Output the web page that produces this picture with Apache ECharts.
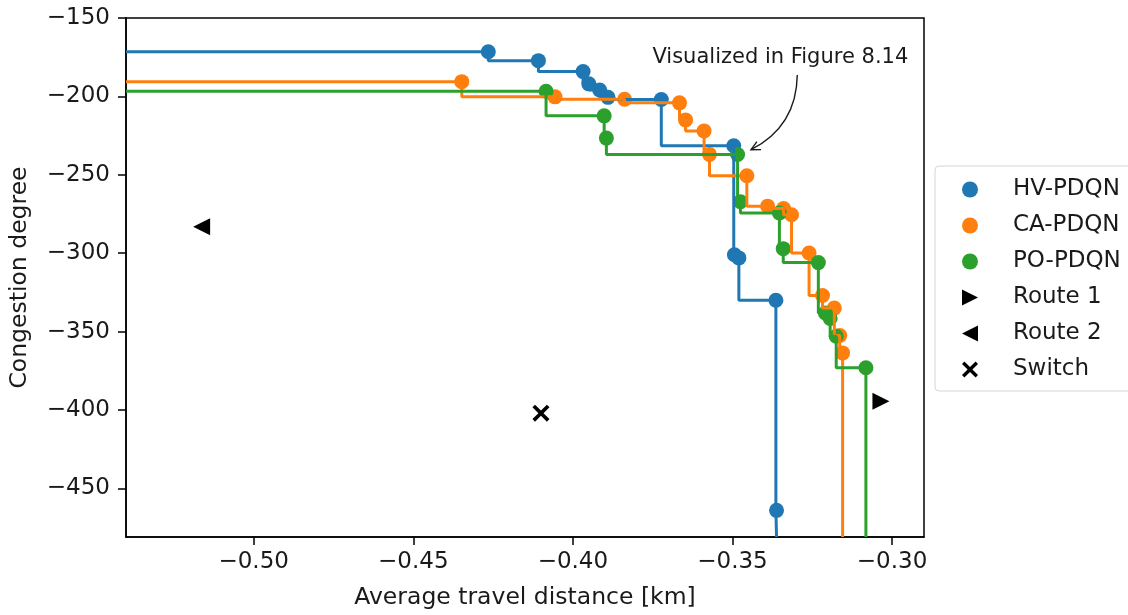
<!DOCTYPE html>
<html>
<head>
<meta charset="utf-8">
<script src="https://cdn.jsdelivr.net/npm/echarts@6/dist/echarts.min.js"></script>
<style>
  html, body { margin: 0; padding: 0; background: #fff; }
  #chart { width: 1128px; height: 615px; }
</style>
</head>
<body>
<div id="chart"></div>
<script>
// Axis ranges and tick labels
const xRange = [-0.54, -0.29];
const yRange = [-481, -150];
const xTickValues = [-0.50, -0.45, -0.40, -0.35, -0.30];
const xTickLabels = ['\u22120.50', '\u22120.45', '\u22120.40', '\u22120.35', '\u22120.30'];
const yTickValues = [-450, -400, -350, -300, -250, -200, -150];
const yTickLabels = ['\u2212450', '\u2212400', '\u2212350', '\u2212300', '\u2212250', '\u2212200', '\u2212150'];

// Pareto points per method: average travel distance (x) vs congestion degree (y)
const hvX = [-0.4265, -0.4108, -0.3968, -0.3950, -0.3916, -0.3890, -0.3723, -0.3496, -0.3494, -0.3480, -0.3364, -0.3362];
const hvY = [-171.5, -177.2, -184.2, -192.0, -195.9, -200.6, -202.0, -231.5, -301.0, -303.0, -330.0, -464.0];
const caX = [-0.4348, -0.4056, -0.3838, -0.3666, -0.3647, -0.3589, -0.3572, -0.3455, -0.3390, -0.3340, -0.3315, -0.3260, -0.3218, -0.3181, -0.3164, -0.3155];
const caY = [-190.6, -200.3, -201.8, -204.1, -215.0, -222.0, -237.0, -250.6, -270.0, -271.5, -275.5, -299.9, -327.0, -335.0, -352.5, -363.6];
const poX = [-0.4084, -0.3902, -0.3895, -0.3484, -0.3475, -0.3353, -0.3341, -0.3231, -0.3209, -0.3194, -0.3175, -0.3082];
const poY = [-196.7, -212.4, -226.6, -237.1, -267.2, -274.4, -297.1, -306.0, -338.1, -341.6, -353.0, -373.1];

// Single-policy reference points
const route1 = [[-0.3035, -394.4]];
const route2 = [[-0.5163, -283.1]];
const switchPt = [[-0.4100, -402.0]];

// Annotation: text anchor, arrow start and arrow tip (data coordinates)
const noteText = 'Visualized in Figure 8.14';
const noteAt = [-0.3350, -175.5];
const arrowFrom = [-0.3297, -186.3];
const arrowTo = [-0.3442, -234.0];

const COLORS = { hv: '#1f77b4', ca: '#ff7f0e', po: '#2ca02c', k: '#000000' };
const FONT = 'DejaVu Sans';
const TEXT = '#1a1a1a';
const TRI_RIGHT = 'path://M0,0L10,5L0,10Z';
const TRI_LEFT = 'path://M10,0L0,5L10,10Z';
const CROSS = 'path://M0,1.5L1.5,0L5,3.5L8.5,0L10,1.5L6.5,5L10,8.5L8.5,10L5,6.5L1.5,10L0,8.5L3.5,5Z';

function zip(xs, ys) { return xs.map((x, i) => [x, ys[i]]); }

// Attainment front: extend from the left edge and down to the bottom edge
function front(xs, ys) {
  const pts = zip(xs, ys);
  return [[xRange[0], ys[0]]].concat(pts, [[xs[xs.length - 1], yRange[0]]]);
}

function stepSeries(name, xs, ys, color) {
  return {
    name: name, type: 'line', step: 'start', data: front(xs, ys),
    showSymbol: false, symbol: 'none', silent: true,
    lineStyle: { color: color, width: 3 }, itemStyle: { color: color },
    animation: false
  };
}
function dotSeries(name, data, color, symbol, size) {
  return {
    name: name, type: 'scatter', data: data, symbol: symbol, symbolSize: size,
    itemStyle: { color: color, opacity: 1 }, animation: false
  };
}

const chart = echarts.init(document.getElementById('chart'), null, { renderer: 'canvas' });

function tickLabel(values, labels) {
  return v => {
    const i = values.findIndex(t => Math.abs(t - v) < 1e-9);
    return i < 0 ? '' : labels[i];
  };
}

const option = {
  backgroundColor: '#ffffff',
  animation: false,
  textStyle: { fontFamily: FONT },
  grid: {
    left: 125, top: 18, right: 204, bottom: 77,
    show: true, borderColor: '#000', borderWidth: 1.5, backgroundColor: 'transparent'
  },
  xAxis: {
    type: 'value', min: xRange[0], max: xRange[1],
    name: 'Average travel distance [km]', nameLocation: 'middle', nameGap: 49,
    nameTextStyle: { fontSize: 23.5, color: TEXT, fontFamily: FONT },
    axisLine: { show: true, onZero: false, lineStyle: { color: '#000', width: 1.5 } },
    axisTick: { show: true, inside: false, length: 8, customValues: xTickValues, lineStyle: { color: '#000', width: 1.5 } },
    axisLabel: { show: true, customValues: xTickValues, formatter: tickLabel(xTickValues, xTickLabels), fontSize: 23, color: TEXT, margin: 14, fontFamily: FONT },
    splitLine: { show: false }
  },
  yAxis: {
    type: 'value', min: yRange[0], max: yRange[1],
    name: 'Congestion degree', nameLocation: 'middle', nameGap: 94, nameRotate: 90,
    nameTextStyle: { fontSize: 23.5, color: TEXT, fontFamily: FONT },
    axisLine: { show: true, onZero: false, lineStyle: { color: '#000', width: 1.5 } },
    axisTick: { show: true, inside: false, length: 8, customValues: yTickValues, lineStyle: { color: '#000', width: 1.5 } },
    axisLabel: { show: true, customValues: yTickValues, formatter: tickLabel(yTickValues, yTickLabels), fontSize: 23, color: TEXT, margin: 16, fontFamily: FONT },
    splitLine: { show: false }
  },
  legend: {
    orient: 'vertical', left: 935, top: 166,
    padding: [12, 12, 10, 27], itemGap: 13, itemWidth: 16, itemHeight: 16,
    borderColor: '#d6d6d6', borderWidth: 1, borderRadius: 4, backgroundColor: '#ffffff',
    textStyle: { fontSize: 23, color: TEXT, fontFamily: FONT, lineHeight: 23, padding: [0, 0, 0, 30] },
    selectedMode: false,
    data: [
      { name: 'HV-PDQN', icon: 'circle' },
      { name: 'CA-PDQN', icon: 'circle' },
      { name: 'PO-PDQN', icon: 'circle' },
      { name: 'Route 1', icon: TRI_RIGHT },
      { name: 'Route 2', icon: TRI_LEFT },
      { name: 'Switch', icon: CROSS }
    ]
  },
  series: [
    stepSeries('HV-PDQN', hvX, hvY, COLORS.hv),
    dotSeries('HV-PDQN', zip(hvX, hvY), COLORS.hv, 'circle', 15),
    stepSeries('CA-PDQN', caX, caY, COLORS.ca),
    dotSeries('CA-PDQN', zip(caX, caY), COLORS.ca, 'circle', 15),
    stepSeries('PO-PDQN', poX, poY, COLORS.po),
    dotSeries('PO-PDQN', zip(poX, poY), COLORS.po, 'circle', 15),
    dotSeries('Route 1', route1, COLORS.k, TRI_RIGHT, 17),
    dotSeries('Route 2', route2, COLORS.k, TRI_LEFT, 17),
    dotSeries('Switch', switchPt, COLORS.k, CROSS, 17)
  ]
};

chart.setOption(option);

// Curved annotation arrow (arc-style quadratic connector with an open head)
function drawNote() {
  const toPx = p => chart.convertToPixel({ gridIndex: 0 }, p);
  const t = toPx(noteAt), a = toPx(arrowFrom), b = toPx(arrowTo);
  const rad = 0.3;
  const mx = (a[0] + b[0]) / 2, my = (a[1] + b[1]) / 2;
  const dx = b[0] - a[0], dy = b[1] - a[1];
  const cx = mx + rad * dy, cy = my - rad * dx;
  let tx = b[0] - cx, ty = b[1] - cy;
  const len = Math.hypot(tx, ty); tx /= len; ty /= len;
  const headL = 9, headW = 4.5;
  const nx = -ty, ny = tx;
  const h1 = [b[0] - tx * headL + nx * headW, b[1] - ty * headL + ny * headW];
  const h2 = [b[0] - tx * headL - nx * headW, b[1] - ty * headL - ny * headW];
  chart.setOption({
    graphic: [
      {
        type: 'text', x: t[0], y: t[1], z: 100,
        style: { text: noteText, fontSize: 21, fontFamily: FONT, fill: TEXT, align: 'center', verticalAlign: 'middle' }
      },
      {
        type: 'bezierCurve', z: 100,
        shape: { x1: a[0], y1: a[1], x2: b[0], y2: b[1], cpx1: cx, cpy1: cy },
        style: { stroke: TEXT, lineWidth: 1.4, fill: null }
      },
      {
        type: 'polyline', z: 100,
        shape: { points: [h1, b, h2] },
        style: { stroke: TEXT, lineWidth: 1.4, fill: null }
      }
    ]
  });
}
drawNote();
</script>
</body>
</html>
